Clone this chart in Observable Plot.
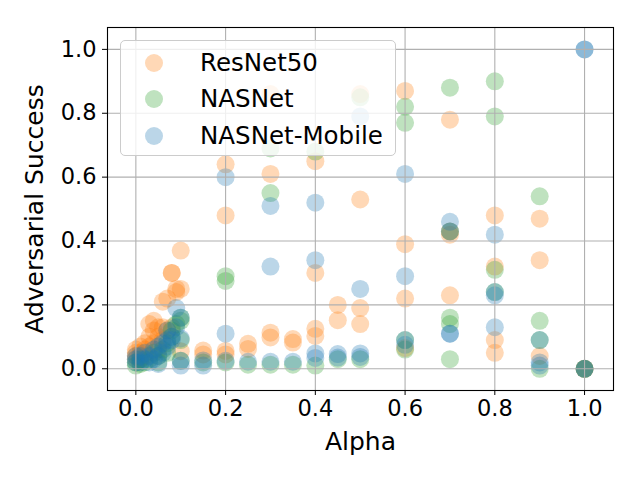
<!DOCTYPE html>
<html>
<head>
<meta charset="utf-8">
<script src="https://cdn.jsdelivr.net/npm/d3@7"></script>
<script src="https://cdn.jsdelivr.net/npm/@observablehq/plot@0.6"></script>
<style>
  body { margin: 0; background: #fff; }
  #wrap { position: relative; width: 640px; height: 480px; font-family: "DejaVu Sans", sans-serif; }
  #wrap svg [aria-label="x-axis label"] text, #wrap svg [aria-label="y-axis label"] text { font-size: 25px; }
  #legend { position: absolute; left: 120px; top: 40px; width: 274px; height: 114px;
    background: rgba(255,255,255,0.8); border: 1px solid #cccccc; border-radius: 5px; }
  .mk { position: absolute; left: 24px; width: 18px; height: 18px; border-radius: 50%; opacity: 0.3; }
  .lb { position: absolute; left: 79px; font-size: 24.5px; line-height: 24px; color: #000; white-space: nowrap; }
</style>
</head>
<body>
<div id="wrap"></div>
<script>
const seriesNames = ["ResNet50", "NASNet", "NASNet-Mobile"];
const seriesColors = ["#ff7f0e", "#2ca02c", "#1f77b4"];
const tickValues = [0, 0.2, 0.4, 0.6, 0.8, 1.0];

// ResNet50
const resnetAlpha = [0,0,0,0, 0.01,0.01,0.01, 0.02,0.02,0.02, 0.03,0.03,0.03, 0.04,0.04,0.04, 0.05,0.05,0.05,
  0.06,0.06,0.06, 0.07,0.07, 0.08,0.08,0.08, 0.09,0.09, 0.1,0.1,0.1, 0.15,0.15, 0.2,0.2,0.2,0.2, 0.25,0.25,
  0.3,0.3,0.3,0.3, 0.35,0.35, 0.4,0.4,0.4,0.4, 0.45,0.45, 0.5,0.5,0.5,0.5, 0.6,0.6,0.6,0.6,
  0.7,0.7,0.7,0.7, 0.8,0.8,0.8,0.8, 0.9,0.9,0.9, 1.0,1.0];
const resnetSuccess = [0.06,0.05,0.04,0.03, 0.07,0.05,0.03, 0.08,0.06,0.04, 0.14,0.10,0.07, 0.15,0.12,0.08, 0.13,0.10,0.06,
  0.21,0.13,0.09, 0.22,0.12, 0.30,0.30,0.13, 0.25,0.24, 0.37,0.25,0.055, 0.057,0.045, 0.64,0.48,0.056,0.045, 0.078,0.062,
  0.86,0.61,0.113,0.098, 0.093,0.082, 0.65,0.30,0.125,0.103, 0.20,0.152, 0.86,0.53,0.19,0.14, 0.87,0.39,0.22,0.065,
  0.78,0.43,0.42,0.23, 0.48,0.32,0.09,0.05, 0.47,0.34,0.04, 0.0,0.0];

// NASNet
const nasnetAlpha = [0,0, 0.01,0.01, 0.02, 0.03, 0.04, 0.05,0.05, 0.06, 0.07,0.07, 0.08,0.08, 0.09,
  0.1,0.1,0.1,0.1, 0.15, 0.2,0.2,0.2, 0.25, 0.3,0.3,0.3, 0.35, 0.4,0.4, 0.45, 0.5,0.5,
  0.6,0.6,0.6,0.6, 0.7,0.7,0.7,0.7,0.7, 0.8,0.8,0.8,0.8, 0.9,0.9,0.9,0.9, 1.0,1.0];
const nasnetSuccess = [0.02,0.01, 0.015,0.03, 0.02, 0.03, 0.05, 0.04,0.02, 0.06, 0.08,0.05, 0.12,0.10, 0.14,
  0.16,0.15,0.09,0.025, 0.02, 0.29,0.275,0.02, 0.013, 0.69,0.55,0.013, 0.013, 0.68,0.01, 0.03, 0.85,0.03,
  0.82,0.77,0.09,0.06, 0.88,0.43,0.16,0.14,0.03, 0.90,0.79,0.31,0.24, 0.54,0.15,0.09,0.0, 0.0,0.0];

// NASNet-Mobile
const mobileAlpha = [0,0,0, 0.01,0.01, 0.02,0.02, 0.03,0.03, 0.04,0.04, 0.05,0.05,0.05, 0.06,0.06,
  0.07,0.07,0.07, 0.08,0.08, 0.09,0.09, 0.1,0.1,0.1,0.1, 0.15,0.15, 0.2,0.2,0.2, 0.25, 0.3,0.3,0.3, 0.35,
  0.4,0.4,0.4,0.4, 0.45,0.45, 0.5,0.5,0.5,0.5, 0.6,0.6,0.6,0.6, 0.7,0.7,0.7,0.7, 0.8,0.8,0.8,0.8,
  0.9,0.9,0.9, 1.0,1.0,1.0,1.0];
const mobileSuccess = [0.03,0.02,0.04, 0.02,0.04, 0.03,0.05, 0.04,0.02, 0.06,0.03, 0.07,0.015,0.04, 0.08,0.05,
  0.12,0.09,0.07, 0.09,0.10, 0.19,0.13, 0.16,0.095,0.025,0.01, 0.026,0.01, 0.60,0.11,0.025, 0.022, 0.51,0.32,0.022, 0.022,
  0.52,0.34,0.048,0.034, 0.046,0.035, 0.79,0.25,0.048,0.037, 0.61,0.29,0.09,0.075, 0.46,0.43,0.11,0.11, 0.42,0.24,0.23,0.13,
  0.09,0.02,0.01, 1.0,1.0,0.0,0.0];

const series = [
  {name: seriesNames[0], color: seriesColors[0], xs: resnetAlpha, ys: resnetSuccess},
  {name: seriesNames[1], color: seriesColors[1], xs: nasnetAlpha, ys: nasnetSuccess},
  {name: seriesNames[2], color: seriesColors[2], xs: mobileAlpha, ys: mobileSuccess}
];

const dotMarks = series.map(s => Plot.dot(s.xs.map((x, i) => ({x, y: s.ys[i]})),
  {x: "x", y: "y", r: 9, fill: s.color, fillOpacity: 0.3, stroke: "none"}));

const chart = Plot.plot({
  width: 640, height: 480,
  marginLeft: 107, marginRight: 27, marginTop: 27, marginBottom: 90,
  style: {fontFamily: "DejaVu Sans, sans-serif", fontSize: "22.5px", color: "#000", background: "#fff"},
  x: {domain: [-0.0632, 1.0645]},
  y: {domain: [-0.068, 1.0685]},
  marks: [
    ...dotMarks,
    Plot.gridX(tickValues, {stroke: "#b0b0b0", strokeOpacity: 1, strokeWidth: 1.1}),
    Plot.gridY(tickValues, {stroke: "#b0b0b0", strokeOpacity: 1, strokeWidth: 1.1}),
    Plot.frame({stroke: "#000", strokeWidth: 1.1}),
    Plot.axisX(tickValues, {tickFormat: d3.format(".1f"), tickSize: 5, tickPadding: 5,
      label: "Alpha", labelAnchor: "center", labelArrow: "none", labelOffset: 59, fontSize: 22.5}),
    Plot.axisY(tickValues, {tickFormat: d3.format(".1f"), tickSize: 5, tickPadding: 6,
      label: "Adversarial Success", labelAnchor: "center", labelArrow: "none", labelOffset: 82, fontSize: 22.5})
  ]
});

const wrap = document.getElementById("wrap");
wrap.appendChild(chart);

// Legend overlay
const legend = document.createElement("div");
legend.id = "legend";
const rowTops = [21.7, 58.3, 95];
series.forEach((s, i) => {
  const mk = document.createElement("div");
  mk.className = "mk";
  mk.style.background = s.color;
  mk.style.top = (rowTops[i] - 9) + "px";
  legend.appendChild(mk);
  const lb = document.createElement("div");
  lb.className = "lb";
  lb.textContent = s.name;
  lb.style.top = (rowTops[i] - 12) + "px";
  legend.appendChild(lb);
});
wrap.appendChild(legend);
</script>
</body>
</html>
